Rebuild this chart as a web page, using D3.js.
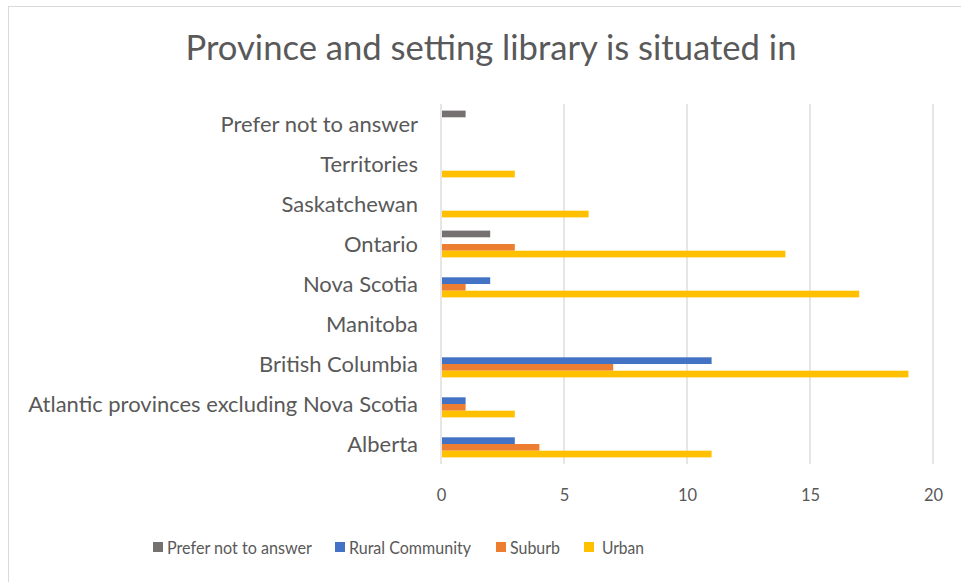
<!DOCTYPE html>
<html>
<head>
<meta charset="utf-8">
<script src="https://cdn.jsdelivr.net/npm/d3@7"></script>
<style>
  html, body { margin: 0; padding: 0; background: #fff; }
  svg { display: block; }
  text { font-family: Lato, "Open Sans", "Liberation Sans", sans-serif; fill: #595959; }
</style>
</head>
<body>
<svg id="chart" width="961" height="582"></svg>
<script>
// ---- Data ----
const title = "Province and setting library is situated in";
const categories = [
  "Alberta",
  "Atlantic provinces excluding Nova Scotia",
  "British Columbia",
  "Manitoba",
  "Nova Scotia",
  "Ontario",
  "Saskatchewan",
  "Territories",
  "Prefer not to answer"
];
const seriesNames = ["Prefer not to answer", "Rural Community", "Suburb", "Urban"];
const seriesColors = ["#767171", "#4472C4", "#ED7D31", "#FFC000"];
const preferNotValues = [0, 0, 0, 0, 0, 2, 0, 0, 1];
const ruralValues     = [3, 1, 11, 0, 2, 0, 0, 0, 0];
const suburbValues    = [4, 1, 7, 0, 1, 3, 0, 0, 0];
const urbanValues     = [11, 3, 19, 0, 17, 14, 6, 3, 0];
const xTicks = [0, 5, 10, 15, 20];

const seriesValues = [preferNotValues, ruralValues, suburbValues, urbanValues];

const svg = d3.select("#chart");

// outer chart border
svg.append("rect")
  .attr("x", 8.5).attr("y", 6.5)
  .attr("width", 1000).attr("height", 700)
  .attr("fill", "none").attr("stroke", "#d9d9d9").attr("stroke-width", 1);

// helper: font size so that text fits a target width
function fitSize(str, target) {
  const t = svg.append("text").attr("font-size", 100).text(str);
  const w = t.node().getComputedTextLength();
  t.remove();
  return 100 * target / w;
}

const plotLeft = 441, plotRight = 933, plotTop = 104, plotBottom = 464;

const x = d3.scaleLinear().domain([0, 20]).range([plotLeft, plotRight]);
const y = d3.scaleBand()
  .domain(categories.slice().reverse())
  .range([plotTop, plotBottom])
  .paddingInner(0.33).paddingOuter(0.165);
const ySub = d3.scaleBand().domain(seriesNames).range([0, y.bandwidth()]);

// title
svg.append("text")
  .attr("x", 491).attr("y", 60)
  .attr("text-anchor", "middle")
  .attr("font-size", fitSize(title, 611))
  .text(title);

// gridlines
svg.append("g").selectAll("line")
  .data(xTicks)
  .join("line")
  .attr("x1", d => x(d)).attr("x2", d => x(d))
  .attr("y1", plotTop).attr("y2", plotBottom)
  .attr("stroke", "#d9d9d9").attr("stroke-width", 1.3);

// x axis tick labels via d3 axis
const xAxis = d3.axisBottom(x).tickValues(xTicks).tickSize(0).tickPadding(0);
const gx = svg.append("g")
  .attr("transform", `translate(0,${plotBottom + 37})`)
  .call(xAxis);
gx.select(".domain").remove();
gx.selectAll("text")
  .attr("dy", 0)
  .attr("font-size", 16.5)
  .style("font-family", "Lato, 'Open Sans', sans-serif")
  .attr("fill", "#595959");

// category labels via d3 axis
const catSize = fitSize(categories[1], 390);
const yAxis = d3.axisLeft(y).tickSize(0).tickPadding(0);
const gy = svg.append("g")
  .attr("transform", `translate(418,0)`)
  .call(yAxis);
gy.select(".domain").remove();
gy.selectAll("text")
  .attr("dy", "0.35em")
  .attr("font-size", catSize)
  .style("font-family", "Lato, 'Open Sans', sans-serif")
  .attr("fill", "#595959");

// bars
const flat = [];
categories.forEach((c, i) => {
  seriesNames.forEach((s, j) => {
    flat.push({ cat: c, series: s, value: seriesValues[j][i], color: seriesColors[j] });
  });
});
svg.append("g").selectAll("rect")
  .data(flat.filter(d => d.value > 0))
  .join("rect")
  .attr("x", x(0) + 1)
  .attr("y", d => y(d.cat) + ySub(d.series))
  .attr("width", d => x(d.value) - x(0) - 1)
  .attr("height", ySub.bandwidth())
  .attr("fill", d => d.color);

// legend (Calibri-like narrow text: taller glyphs compressed to reference widths)
const legSize = 17;
const legWidths = [145, 122, 50, 42];
const legSquares = [153, 335, 496, 584];
const legend = svg.append("g");
seriesNames.forEach((s, i) => {
  legend.append("rect")
    .attr("x", legSquares[i]).attr("y", 542)
    .attr("width", 10).attr("height", 10)
    .attr("fill", seriesColors[i]);
  const tx = i === 3 ? legSquares[i] + 18 : legSquares[i] + 14;
  legend.append("text")
    .attr("x", tx).attr("y", 554)
    .attr("font-size", legSize)
    .attr("textLength", legWidths[i])
    .attr("lengthAdjust", "spacingAndGlyphs")
    .text(s);
});
</script>
</body>
</html>
